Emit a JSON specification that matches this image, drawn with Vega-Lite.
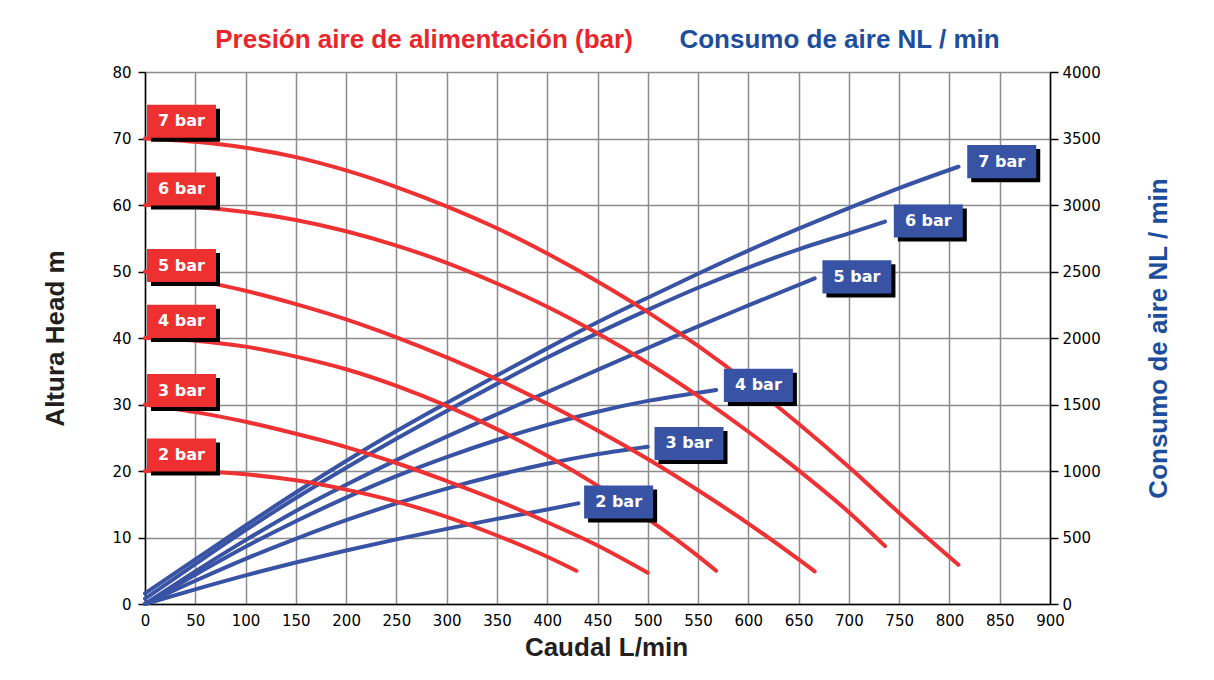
{
  "$schema": "https://vega.github.io/schema/vega-lite/v6.json",
  "width": 905,
  "height": 532,
  "autosize": "none",
  "padding": {"left": 145, "top": 72, "right": 164, "bottom": 76},
  "background": "white",
  "config": {
    "view": {"stroke": null},
    "axis": {
      "labelFont": "DejaVu Sans",
      "labelFontSize": 15,
      "labelColor": "black",
      "titleFont": "Liberation Sans",
      "titleFontSize": 26,
      "titleFontWeight": "bold",
      "domainColor": "black",
      "domainWidth": 1.5,
      "tickColor": "black",
      "tickWidth": 1.5,
      "gridColor": "#8c8c8c",
      "gridWidth": 1.5,
      "gridOpacity": 1,
      "labelOverlap": false,
      "labelFlush": false
    }
  },
  "datasets": {
    "head": [
      {"p": "7 bar", "q": 0, "h": 70}, {"p": "7 bar", "q": 50, "h": 69.5}, {"p": "7 bar", "q": 100, "h": 68.6}, {"p": "7 bar", "q": 150, "h": 67.2}, {"p": "7 bar", "q": 200, "h": 65.2}, {"p": "7 bar", "q": 250, "h": 62.7}, {"p": "7 bar", "q": 300, "h": 59.8}, {"p": "7 bar", "q": 350, "h": 56.5}, {"p": "7 bar", "q": 400, "h": 52.7}, {"p": "7 bar", "q": 450, "h": 48.5}, {"p": "7 bar", "q": 500, "h": 43.9}, {"p": "7 bar", "q": 550, "h": 38.8}, {"p": "7 bar", "q": 600, "h": 33.2}, {"p": "7 bar", "q": 650, "h": 27.1}, {"p": "7 bar", "q": 700, "h": 20.6}, {"p": "7 bar", "q": 750, "h": 13.7}, {"p": "7 bar", "q": 809, "h": 5.9},
      {"p": "6 bar", "q": 0, "h": 60}, {"p": "6 bar", "q": 50, "h": 59.7}, {"p": "6 bar", "q": 100, "h": 58.95}, {"p": "6 bar", "q": 150, "h": 57.75}, {"p": "6 bar", "q": 200, "h": 56.05}, {"p": "6 bar", "q": 250, "h": 53.9}, {"p": "6 bar", "q": 300, "h": 51.3}, {"p": "6 bar", "q": 350, "h": 48.2}, {"p": "6 bar", "q": 400, "h": 44.7}, {"p": "6 bar", "q": 450, "h": 40.7}, {"p": "6 bar", "q": 500, "h": 36.25}, {"p": "6 bar", "q": 550, "h": 31.3}, {"p": "6 bar", "q": 600, "h": 25.9}, {"p": "6 bar", "q": 650, "h": 20.1}, {"p": "6 bar", "q": 700, "h": 13.8}, {"p": "6 bar", "q": 736, "h": 8.7},
      {"p": "5 bar", "q": 0, "h": 50}, {"p": "5 bar", "q": 50, "h": 48.7}, {"p": "5 bar", "q": 100, "h": 47.1}, {"p": "5 bar", "q": 150, "h": 45.1}, {"p": "5 bar", "q": 200, "h": 42.8}, {"p": "5 bar", "q": 250, "h": 40.1}, {"p": "5 bar", "q": 300, "h": 37.1}, {"p": "5 bar", "q": 350, "h": 33.8}, {"p": "5 bar", "q": 400, "h": 30.1}, {"p": "5 bar", "q": 450, "h": 26.1}, {"p": "5 bar", "q": 500, "h": 21.8}, {"p": "5 bar", "q": 550, "h": 17.1}, {"p": "5 bar", "q": 600, "h": 12.1}, {"p": "5 bar", "q": 650, "h": 6.7}, {"p": "5 bar", "q": 666, "h": 4.9},
      {"p": "4 bar", "q": 0, "h": 40}, {"p": "4 bar", "q": 50, "h": 39.6}, {"p": "4 bar", "q": 100, "h": 38.7}, {"p": "4 bar", "q": 150, "h": 37.2}, {"p": "4 bar", "q": 200, "h": 35.3}, {"p": "4 bar", "q": 250, "h": 32.8}, {"p": "4 bar", "q": 300, "h": 29.8}, {"p": "4 bar", "q": 350, "h": 26.3}, {"p": "4 bar", "q": 400, "h": 22.3}, {"p": "4 bar", "q": 450, "h": 17.8}, {"p": "4 bar", "q": 500, "h": 12.8}, {"p": "4 bar", "q": 550, "h": 7.2}, {"p": "4 bar", "q": 568, "h": 5},
      {"p": "3 bar", "q": 0, "h": 30}, {"p": "3 bar", "q": 50, "h": 28.85}, {"p": "3 bar", "q": 100, "h": 27.4}, {"p": "3 bar", "q": 150, "h": 25.6}, {"p": "3 bar", "q": 200, "h": 23.6}, {"p": "3 bar", "q": 250, "h": 21.2}, {"p": "3 bar", "q": 300, "h": 18.5}, {"p": "3 bar", "q": 350, "h": 15.6}, {"p": "3 bar", "q": 400, "h": 12.3}, {"p": "3 bar", "q": 450, "h": 8.8}, {"p": "3 bar", "q": 500, "h": 4.7},
      {"p": "2 bar", "q": 0, "h": 20}, {"p": "2 bar", "q": 50, "h": 19.95}, {"p": "2 bar", "q": 100, "h": 19.5}, {"p": "2 bar", "q": 150, "h": 18.6}, {"p": "2 bar", "q": 200, "h": 17.2}, {"p": "2 bar", "q": 250, "h": 15.4}, {"p": "2 bar", "q": 300, "h": 13.1}, {"p": "2 bar", "q": 350, "h": 10.3}, {"p": "2 bar", "q": 400, "h": 7.1}, {"p": "2 bar", "q": 429, "h": 5}
    ],
    "air": [
      {"p": "7 bar", "q": 0, "c": 80}, {"p": "7 bar", "q": 50, "c": 335}, {"p": "7 bar", "q": 100, "c": 590}, {"p": "7 bar", "q": 150, "c": 838}, {"p": "7 bar", "q": 200, "c": 1075}, {"p": "7 bar", "q": 250, "c": 1300}, {"p": "7 bar", "q": 300, "c": 1512}, {"p": "7 bar", "q": 350, "c": 1718}, {"p": "7 bar", "q": 400, "c": 1922}, {"p": "7 bar", "q": 450, "c": 2118}, {"p": "7 bar", "q": 500, "c": 2303}, {"p": "7 bar", "q": 550, "c": 2483}, {"p": "7 bar", "q": 600, "c": 2657}, {"p": "7 bar", "q": 650, "c": 2822}, {"p": "7 bar", "q": 700, "c": 2977}, {"p": "7 bar", "q": 750, "c": 3127}, {"p": "7 bar", "q": 809, "c": 3288},
      {"p": "6 bar", "q": 0, "c": 40}, {"p": "6 bar", "q": 50, "c": 300}, {"p": "6 bar", "q": 100, "c": 555}, {"p": "6 bar", "q": 150, "c": 797}, {"p": "6 bar", "q": 200, "c": 1025}, {"p": "6 bar", "q": 250, "c": 1243}, {"p": "6 bar", "q": 300, "c": 1452}, {"p": "6 bar", "q": 350, "c": 1655}, {"p": "6 bar", "q": 400, "c": 1853}, {"p": "6 bar", "q": 450, "c": 2037}, {"p": "6 bar", "q": 500, "c": 2212}, {"p": "6 bar", "q": 550, "c": 2378}, {"p": "6 bar", "q": 600, "c": 2530}, {"p": "6 bar", "q": 650, "c": 2667}, {"p": "6 bar", "q": 700, "c": 2787}, {"p": "6 bar", "q": 736, "c": 2875},
      {"p": "5 bar", "q": 0, "c": 0}, {"p": "5 bar", "q": 50, "c": 245}, {"p": "5 bar", "q": 100, "c": 480}, {"p": "5 bar", "q": 150, "c": 700}, {"p": "5 bar", "q": 200, "c": 897}, {"p": "5 bar", "q": 250, "c": 1082}, {"p": "5 bar", "q": 300, "c": 1258}, {"p": "5 bar", "q": 350, "c": 1427}, {"p": "5 bar", "q": 400, "c": 1593}, {"p": "5 bar", "q": 450, "c": 1760}, {"p": "5 bar", "q": 500, "c": 1925}, {"p": "5 bar", "q": 550, "c": 2088}, {"p": "5 bar", "q": 600, "c": 2245}, {"p": "5 bar", "q": 666, "c": 2449},
      {"p": "4 bar", "q": 0, "c": 0}, {"p": "4 bar", "q": 50, "c": 220}, {"p": "4 bar", "q": 100, "c": 430}, {"p": "4 bar", "q": 150, "c": 622}, {"p": "4 bar", "q": 200, "c": 800}, {"p": "4 bar", "q": 250, "c": 962}, {"p": "4 bar", "q": 300, "c": 1105}, {"p": "4 bar", "q": 350, "c": 1233}, {"p": "4 bar", "q": 400, "c": 1347}, {"p": "4 bar", "q": 450, "c": 1446}, {"p": "4 bar", "q": 500, "c": 1527}, {"p": "4 bar", "q": 550, "c": 1588}, {"p": "4 bar", "q": 568, "c": 1609},
      {"p": "3 bar", "q": 0, "c": 0}, {"p": "3 bar", "q": 50, "c": 175}, {"p": "3 bar", "q": 100, "c": 340}, {"p": "3 bar", "q": 150, "c": 490}, {"p": "3 bar", "q": 200, "c": 630}, {"p": "3 bar", "q": 250, "c": 756}, {"p": "3 bar", "q": 300, "c": 868}, {"p": "3 bar", "q": 350, "c": 968}, {"p": "3 bar", "q": 400, "c": 1055}, {"p": "3 bar", "q": 450, "c": 1127}, {"p": "3 bar", "q": 500, "c": 1183},
      {"p": "2 bar", "q": 0, "c": 0}, {"p": "2 bar", "q": 50, "c": 110}, {"p": "2 bar", "q": 100, "c": 215}, {"p": "2 bar", "q": 150, "c": 312}, {"p": "2 bar", "q": 200, "c": 402}, {"p": "2 bar", "q": 250, "c": 486}, {"p": "2 bar", "q": 300, "c": 565}, {"p": "2 bar", "q": 350, "c": 640}, {"p": "2 bar", "q": 400, "c": 710}, {"p": "2 bar", "q": 431, "c": 757}
    ],
    "headLab": [
      {"p": "7 bar", "q": 36.3, "h": 72.6}, {"p": "6 bar", "q": 36.3, "h": 62.4}, {"p": "5 bar", "q": 36.3, "h": 50.9}, {"p": "4 bar", "q": 36.3, "h": 42.5}, {"p": "3 bar", "q": 36.3, "h": 32.1}, {"p": "2 bar", "q": 36.3, "h": 22.4}
    ],
    "airLab": [
      {"p": "7 bar", "q": 852, "c": 3326}, {"p": "6 bar", "q": 779, "c": 2880}, {"p": "5 bar", "q": 708, "c": 2460}, {"p": "4 bar", "q": 610, "c": 1644}, {"p": "3 bar", "q": 541, "c": 1207}, {"p": "2 bar", "q": 471, "c": 767}
    ]
  },
  "layer": [
    {
      "data": {"name": "air"},
      "mark": {"type": "line", "color": "#3953a4", "strokeWidth": 4, "strokeCap": "round", "interpolate": "monotone"},
      "encoding": {
        "x": {"field": "q", "type": "quantitative", "scale": {"domain": [0, 900], "nice": false},
          "axis": {"title": "Caudal L/min", "values": [0,50,100,150,200,250,300,350,400,450,500,550,600,650,700,750,800,850,900], "format": "d", "grid": true, "ticks": false, "labelPadding": 9, "titlePadding": 6, "titleX": 461, "titleColor": "#231f20"}},
        "y": {"field": "c", "type": "quantitative", "scale": {"domain": [0, 4000], "nice": false},
          "axis": {"orient": "right", "title": "Consumo de aire NL / min", "values": [0,500,1000,1500,2000,2500,3000,3500,4000], "format": "d", "grid": false, "tickSize": 8, "labelPadding": 4, "titleColor": "#1d4e9e", "titleAngle": 270, "titleBaseline": "bottom", "titlePadding": 71}},
        "detail": {"field": "p"}
      }
    },
    {
      "layer": [
        {
          "data": {"name": "head"},
          "mark": {"type": "line", "color": "#ee3234", "strokeWidth": 4, "strokeCap": "round", "interpolate": "monotone"},
          "encoding": {
            "x": {"field": "q", "type": "quantitative", "scale": {"domain": [0, 900], "nice": false}},
            "y": {"field": "h", "type": "quantitative", "scale": {"domain": [0, 80], "nice": false},
              "axis": {"title": "Altura Head m", "values": [0,10,20,30,40,50,60,70,80], "format": "d", "grid": true, "tickSize": 7, "labelPadding": 7, "titleColor": "#231f20", "titlePadding": 43}},
            "detail": {"field": "p"}
          }
        },
        {
          "data": {"name": "headLab"},
          "mark": {"type": "point", "shape": "M-1,-0.48L1,-0.48L1,0.48L-1,0.48Z", "size": 4761, "filled": true, "color": "black", "opacity": 1, "xOffset": 4, "yOffset": 4},
          "encoding": {
            "x": {"field": "q", "type": "quantitative"},
            "y": {"field": "h", "type": "quantitative"}
          }
        },
        {
          "data": {"name": "headLab"},
          "mark": {"type": "point", "shape": "M-1,-0.48L1,-0.48L1,0.48L-1,0.48Z", "size": 4761, "filled": true, "color": "#ee3030", "opacity": 1},
          "encoding": {
            "x": {"field": "q", "type": "quantitative"},
            "y": {"field": "h", "type": "quantitative"}
          }
        },
        {
          "data": {"name": "headLab"},
          "mark": {"type": "text", "font": "DejaVu Sans", "fontWeight": "bold", "fontSize": 16, "color": "white", "align": "center", "baseline": "middle"},
          "encoding": {
            "x": {"field": "q", "type": "quantitative"},
            "y": {"field": "h", "type": "quantitative"},
            "text": {"field": "p"}
          }
        },
        {
          "data": {"values": [{}]},
          "mark": {"type": "text", "font": "Liberation Sans", "fontWeight": "bold", "fontSize": 26, "color": "#e8262b", "align": "center", "baseline": "alphabetic", "text": "Presión aire de alimentación (bar)"},
          "encoding": {
            "x": {"datum": 277.5, "type": "quantitative"},
            "y": {"datum": 83.6, "type": "quantitative"}
          }
        },
        {
          "data": {"values": [{}]},
          "mark": {"type": "text", "font": "Liberation Sans", "fontWeight": "bold", "fontSize": 26, "color": "#1d4e9e", "align": "center", "baseline": "alphabetic", "text": "Consumo de aire NL / min"},
          "encoding": {
            "x": {"datum": 690.7, "type": "quantitative"},
            "y": {"datum": 83.6, "type": "quantitative"}
          }
        }
      ]
    },
    {
      "layer": [
        {
          "data": {"name": "airLab"},
          "mark": {"type": "point", "shape": "M-1,-0.48L1,-0.48L1,0.48L-1,0.48Z", "size": 4761, "filled": true, "color": "black", "opacity": 1, "xOffset": 4, "yOffset": 4},
          "encoding": {
            "x": {"field": "q", "type": "quantitative"},
            "y": {"field": "c", "type": "quantitative", "scale": {"domain": [0, 4000], "nice": false}, "axis": null}
          }
        },
        {
          "data": {"name": "airLab"},
          "mark": {"type": "point", "shape": "M-1,-0.48L1,-0.48L1,0.48L-1,0.48Z", "size": 4761, "filled": true, "color": "#3953a4", "opacity": 1},
          "encoding": {
            "x": {"field": "q", "type": "quantitative"},
            "y": {"field": "c", "type": "quantitative"}
          }
        },
        {
          "data": {"name": "airLab"},
          "mark": {"type": "text", "font": "DejaVu Sans", "fontWeight": "bold", "fontSize": 16, "color": "white", "align": "center", "baseline": "middle"},
          "encoding": {
            "x": {"field": "q", "type": "quantitative"},
            "y": {"field": "c", "type": "quantitative"},
            "text": {"field": "p"}
          }
        }
      ]
    }
  ],
  "resolve": {"scale": {"y": "independent"}}
}
